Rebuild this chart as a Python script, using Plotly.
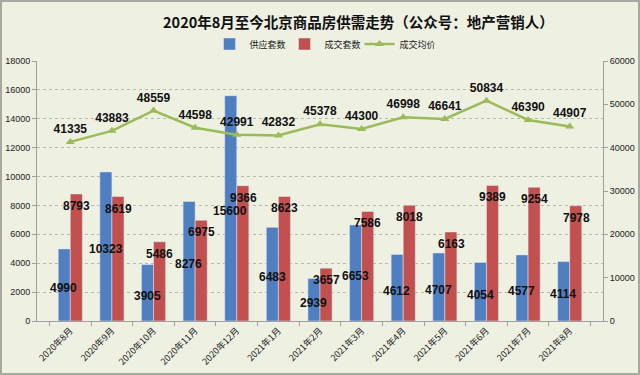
import plotly.graph_objects as go

months = ["2020年8月", "2020年9月", "2020年10月", "2020年11月", "2020年12月",
          "2021年1月", "2021年2月", "2021年3月", "2021年4月", "2021年5月",
          "2021年6月", "2021年7月", "2021年8月"]
supply = [4990, 10323, 3905, 8276, 15600, 6483, 2939, 6653, 4612, 4707, 4054, 4577, 4114]
sales = [8793, 8619, 5486, 6975, 9366, 8623, 3657, 7586, 8018, 6163, 9389, 9254, 7978]
price = [41335, 43883, 48559, 44598, 42991, 42832, 45378, 44300, 46998, 46641, 50834, 46390, 44907]
left_ticks = list(range(0, 18001, 2000))
right_ticks = list(range(0, 60001, 10000))

FONT = "Noto Sans CJK SC, Noto Sans, sans-serif"
NUMFONT = "Liberation Sans, Arial, sans-serif"
BG = "#eef0e2"
L, R, T, B = 37, 37, 61, 54
W, H = 640, 375
pw, ph = W - L - R, H - T - B
BARGAP = 0.42
half_bar_px = pw / len(months) * (1 - BARGAP) / 4  # half of a single bar's width

lblfont = dict(family=NUMFONT, size=12, color="#111111")

fig = go.Figure()
fig.add_trace(go.Bar(x=months, y=supply, name="供应套数", marker_color="#4f7fc0"))
fig.add_trace(go.Bar(x=months, y=sales, name="成交套数", marker_color="#c2504e"))
fig.add_trace(go.Scatter(
    x=months, y=price, name="成交均价", yaxis="y2", mode="lines+markers+text",
    line=dict(color="#9bbb59", width=2.5),
    marker=dict(symbol="triangle-up", size=8, color="#9bbb59"),
    text=[f"<b>{v}</b>" for v in price], textposition="top center",
    textfont=lblfont, cliponaxis=False,
))

annotations = []
for m, v in zip(months, supply):
    annotations.append(dict(x=m, y=v / 2, xref="x", yref="y", text=f"<b>{v}</b>",
                            showarrow=False, xshift=-half_bar_px, yshift=-3, font=lblfont))
for m, v in zip(months, sales):
    annotations.append(dict(x=m, y=v, xref="x", yref="y", text=f"<b>{v}</b>",
                            showarrow=False, xshift=half_bar_px, yshift=-12, font=lblfont))

tickfont = dict(family=NUMFONT, size=9, color="#222222")

fig.update_layout(
    width=W, height=H,
    margin=dict(l=L, r=R, t=T, b=B, autoexpand=False),
    paper_bgcolor=BG, plot_bgcolor=BG,
    font=dict(family=FONT, size=9, color="#222222"),
    title=dict(text="<b>2020年8月至今北京商品房供需走势（公众号：地产营销人）</b>",
               x=(354 - L) / pw, xanchor="center", y=1 - 23 / H, yanchor="middle",
               font=dict(family=FONT, size=14.5, color="#111111")),
    barmode="group", bargap=BARGAP, bargroupgap=0,
    showlegend=True,
    legend=dict(orientation="h", x=(322 - L) / pw, xanchor="center", y=(H - B - 44) / ph,
                yanchor="middle", bgcolor="rgba(0,0,0,0)",
                font=dict(family=FONT, size=9, color="#222222"),
                itemwidth=30, entrywidth=30, entrywidthmode="pixels", tracegroupgap=0),
    xaxis=dict(type="category", tickangle=-45, showline=True, linecolor="#a0a0a0",
               ticks="outside", ticklen=4, tickcolor="#a0a0a0", tickson="boundaries",
               showgrid=False, automargin=False,
               tickfont=dict(family=FONT, size=9, color="#222222")),
    yaxis=dict(range=[0, 18000], tickvals=left_ticks, tickformat="d", showline=True,
               linecolor="#a0a0a0", ticks="outside", ticklen=4, tickcolor="#a0a0a0",
               showgrid=True, gridcolor="#b8b8b0", griddash="dot", gridwidth=1,
               zeroline=False, automargin=False, tickfont=tickfont),
    yaxis2=dict(range=[0, 60000], tickvals=right_ticks, tickformat="d", overlaying="y",
                side="right", showline=True, linecolor="#a0a0a0", ticks="outside",
                ticklen=4, tickcolor="#a0a0a0", showgrid=False, zeroline=False,
                automargin=False, tickfont=tickfont),
    annotations=annotations,
    shapes=[dict(type="rect", xref="paper", yref="paper",
                 x0=-(L - 1) / pw, x1=1 + (R - 1) / pw,
                 y0=-(B - 1) / ph, y1=1 + (T - 1) / ph,
                 line=dict(color="#a8a8a0", width=2), fillcolor="rgba(0,0,0,0)", layer="above")],
)

fig.write_html("out.html", config={"displayModeBar": False},
               post_script="document.body.style.margin='0';")
